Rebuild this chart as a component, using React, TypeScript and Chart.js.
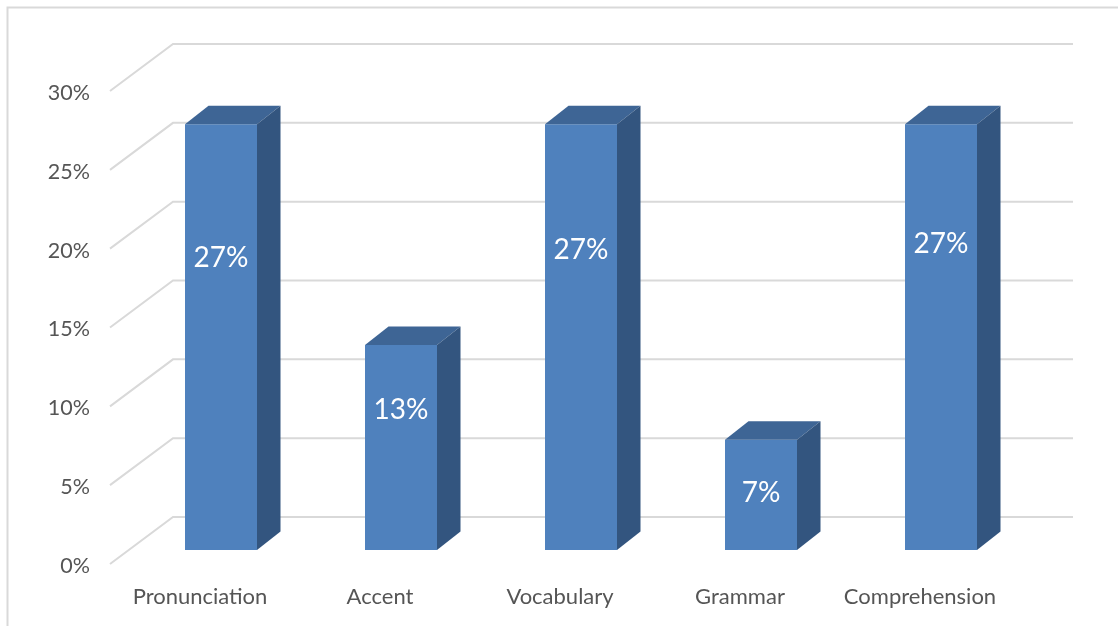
import React, { useEffect, useRef } from 'react';
import { Chart, registerables } from 'chart.js';

Chart.register(...registerables);

const categories = ['Pronunciation', 'Accent', 'Vocabulary', 'Grammar', 'Comprehension'];
const shares = [27, 13, 27, 7, 27];
const valueLabels = ['27%', '13%', '27%', '7%', '27%'];
const labelLevels = [18.5, 8.9, 19.0, 3.6, 19.4];

const FONT = 'Lato, Carlito, Calibri, sans-serif';
const FRONT_COLOR = '#4F81BD';
const TOP_COLOR = '#3E6595';
const SIDE_COLOR = '#33557F';
const GRID_COLOR = '#d9d9d9';
const TEXT_COLOR = '#555555';
const BAR_DEPTH = { dx: 23.5, dy: -18.5 };
const WALL_BACK = { dx: 42, dy: -33 };
const WALL_FRONT = { dx: -21, dy: 14 };

const threeD = {
  id: 'threeD',
  beforeDraw(chart: any) {
    const ctx = chart.ctx;
    ctx.save();
    ctx.strokeStyle = GRID_COLOR;
    ctx.lineWidth = 2;
    ctx.beginPath();
    ctx.moveTo(7.5, 626);
    ctx.lineTo(7.5, 7.5);
    ctx.lineTo(1118, 7.5);
    ctx.stroke();
    ctx.restore();
  },
  beforeDatasetsDraw(chart: any) {
    const { ctx, chartArea, scales } = chart;
    const y = scales.y;
    ctx.save();
    ctx.strokeStyle = GRID_COLOR;
    ctx.lineWidth = 2;
    y.ticks.forEach((t: any) => {
      const py = y.getPixelForValue(t.value);
      ctx.beginPath();
      ctx.moveTo(chartArea.left + WALL_FRONT.dx, py + WALL_FRONT.dy);
      ctx.lineTo(chartArea.left + WALL_BACK.dx, py + WALL_BACK.dy);
      ctx.lineTo(chartArea.right + WALL_BACK.dx, py + WALL_BACK.dy);
      ctx.stroke();
    });
    ctx.restore();
  },
  afterDatasetsDraw(chart: any) {
    const { ctx, scales } = chart;
    const meta = chart.getDatasetMeta(0);
    ctx.save();
    meta.data.forEach((bar: any, i: number) => {
      const { x, y, base, width } = bar.getProps(['x', 'y', 'base', 'width'], true);
      const l = x - width / 2;
      const r = x + width / 2;
      const { dx, dy } = BAR_DEPTH;
      ctx.fillStyle = TOP_COLOR;
      ctx.beginPath();
      ctx.moveTo(l, y);
      ctx.lineTo(l + dx, y + dy);
      ctx.lineTo(r + dx, y + dy);
      ctx.lineTo(r, y);
      ctx.closePath();
      ctx.fill();
      ctx.fillStyle = SIDE_COLOR;
      ctx.beginPath();
      ctx.moveTo(r, y);
      ctx.lineTo(r + dx, y + dy);
      ctx.lineTo(r + dx, base + dy);
      ctx.lineTo(r, base);
      ctx.closePath();
      ctx.fill();
      ctx.fillStyle = '#ffffff';
      ctx.font = `28px ${FONT}`;
      ctx.textAlign = 'center';
      ctx.textBaseline = 'middle';
      ctx.fillText(valueLabels[i], x, scales.y.getPixelForValue(labelLevels[i]));
    });
    ctx.restore();
  },
};

export default function App() {
  const ref = useRef<HTMLCanvasElement | null>(null);
  useEffect(() => {
    if (!ref.current) return;
    const chart = new Chart(ref.current, {
      type: 'bar',
      data: {
        labels: categories,
        datasets: [
          {
            data: shares,
            backgroundColor: FRONT_COLOR,
            borderWidth: 0,
            barPercentage: 0.4,
            categoryPercentage: 1,
          },
        ],
      },
      options: {
        responsive: false,
        animation: false,
        layout: { padding: { left: 0, right: 87, top: 77, bottom: 0 } },
        plugins: { legend: { display: false }, tooltip: { enabled: false } },
        scales: {
          x: {
            grid: { display: false, drawTicks: false },
            border: { display: false },
            ticks: {
              color: TEXT_COLOR,
              font: { family: FONT, size: 22 },
              labelOffset: -21,
              padding: 34,
              maxRotation: 0,
              autoSkip: false,
            },
            afterFit(scale: any) {
              scale.height = 76;
            },
          },
          y: {
            min: 0,
            max: 30,
            grid: { display: false, drawTicks: false },
            border: { display: false },
            ticks: {
              stepSize: 5,
              color: TEXT_COLOR,
              font: { family: FONT, size: 21.5 },
              labelOffset: 16,
              padding: 41,
              callback: (v: any) => `${v}%`,
            },
            afterFit(scale: any) {
              scale.width = 131;
            },
          },
        },
      },
      plugins: [threeD],
    });
    return () => chart.destroy();
  }, []);
  return (
    <div style={{ position: 'absolute', left: 0, top: 0, width: 1118, height: 626, overflow: 'hidden', background: '#fff' }}>
      <canvas ref={ref} width={1118} height={626} style={{ display: 'block' }} />
    </div>
  );
}
